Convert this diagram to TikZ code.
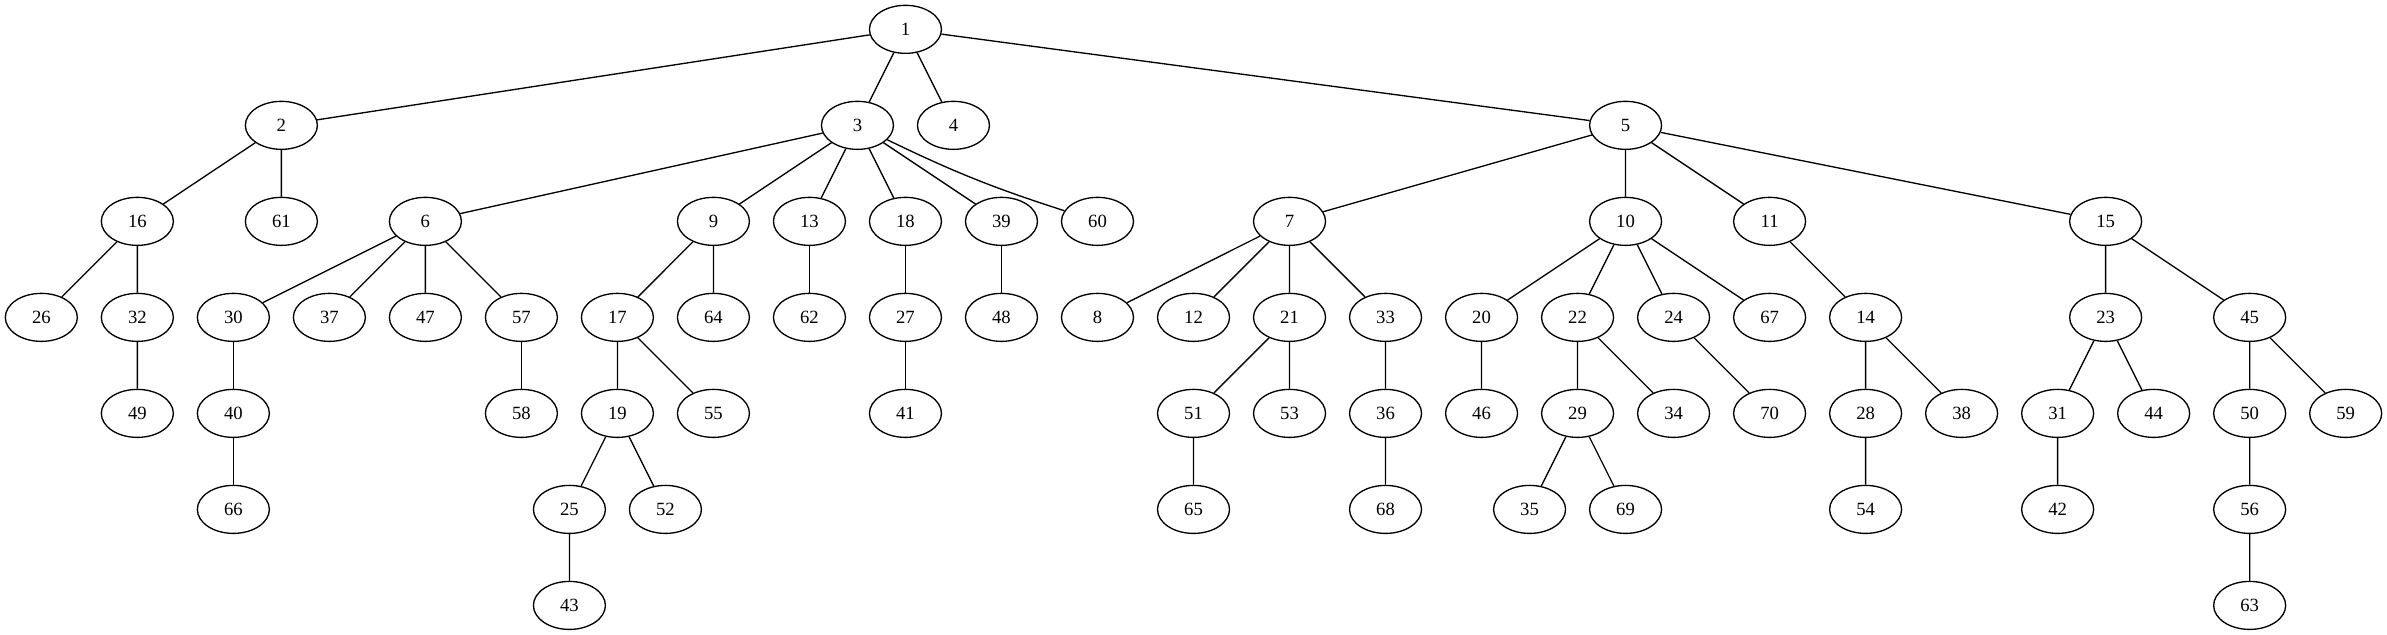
\documentclass[tikz,border=0pt]{standalone}
\usepackage{fontspec}
\setmainfont{Liberation Serif}
\usetikzlibrary{shapes.geometric}
\begin{document}
\begin{tikzpicture}[x=72pt, y=72pt, line width=1pt,
    vtx/.style={draw, ellipse, minimum width=54pt, minimum height=36pt,
                inner sep=0pt, font=\fontsize{14}{16}\selectfont}]
  \useasboundingbox (-31pt, 22pt) rectangle (1759pt, -454pt);
  % rank 0 and 1
  \node[vtx] (v1) at (9, 0) {1};
  \node[vtx] (v2) at (2.5, -1) {2};
  \node[vtx] (v3) at (8.5, -1) {3};
  \node[vtx] (v4) at (9.5, -1) {4};
  \node[vtx] (v5) at (16.5, -1) {5};
  % rank 2
  \node[vtx] (v16) at (1, -2) {16};
  \node[vtx] (v61) at (2.5, -2) {61};
  \node[vtx] (v6) at (4, -2) {6};
  \node[vtx] (v9) at (7, -2) {9};
  \node[vtx] (v13) at (8, -2) {13};
  \node[vtx] (v18) at (9, -2) {18};
  \node[vtx] (v39) at (10, -2) {39};
  \node[vtx] (v60) at (11, -2) {60};
  \node[vtx] (v7) at (13, -2) {7};
  \node[vtx] (v10) at (16.5, -2) {10};
  \node[vtx] (v11) at (18, -2) {11};
  \node[vtx] (v15) at (21.5, -2) {15};
  % rank 3
  \node[vtx] (v26) at (0, -3) {26};
  \node[vtx] (v32) at (1, -3) {32};
  \node[vtx] (v30) at (2, -3) {30};
  \node[vtx] (v37) at (3, -3) {37};
  \node[vtx] (v47) at (4, -3) {47};
  \node[vtx] (v57) at (5, -3) {57};
  \node[vtx] (v17) at (6, -3) {17};
  \node[vtx] (v64) at (7, -3) {64};
  \node[vtx] (v62) at (8, -3) {62};
  \node[vtx] (v27) at (9, -3) {27};
  \node[vtx] (v48) at (10, -3) {48};
  \node[vtx] (v8) at (11, -3) {8};
  \node[vtx] (v12) at (12, -3) {12};
  \node[vtx] (v21) at (13, -3) {21};
  \node[vtx] (v33) at (14, -3) {33};
  \node[vtx] (v20) at (15, -3) {20};
  \node[vtx] (v22) at (16, -3) {22};
  \node[vtx] (v24) at (17, -3) {24};
  \node[vtx] (v67) at (18, -3) {67};
  \node[vtx] (v14) at (19, -3) {14};
  \node[vtx] (v23) at (21.5, -3) {23};
  \node[vtx] (v45) at (23, -3) {45};
  % rank 4
  \node[vtx] (v49) at (1, -4) {49};
  \node[vtx] (v40) at (2, -4) {40};
  \node[vtx] (v58) at (5, -4) {58};
  \node[vtx] (v19) at (6, -4) {19};
  \node[vtx] (v55) at (7, -4) {55};
  \node[vtx] (v41) at (9, -4) {41};
  \node[vtx] (v51) at (12, -4) {51};
  \node[vtx] (v53) at (13, -4) {53};
  \node[vtx] (v36) at (14, -4) {36};
  \node[vtx] (v46) at (15, -4) {46};
  \node[vtx] (v29) at (16, -4) {29};
  \node[vtx] (v34) at (17, -4) {34};
  \node[vtx] (v70) at (18, -4) {70};
  \node[vtx] (v28) at (19, -4) {28};
  \node[vtx] (v38) at (20, -4) {38};
  \node[vtx] (v31) at (21, -4) {31};
  \node[vtx] (v44) at (22, -4) {44};
  \node[vtx] (v50) at (23, -4) {50};
  \node[vtx] (v59) at (24, -4) {59};
  % rank 5 and 6
  \node[vtx] (v66) at (2, -5) {66};
  \node[vtx] (v25) at (5.5, -5) {25};
  \node[vtx] (v52) at (6.5, -5) {52};
  \node[vtx] (v65) at (12, -5) {65};
  \node[vtx] (v68) at (14, -5) {68};
  \node[vtx] (v35) at (15.5, -5) {35};
  \node[vtx] (v69) at (16.5, -5) {69};
  \node[vtx] (v54) at (19, -5) {54};
  \node[vtx] (v42) at (21, -5) {42};
  \node[vtx] (v56) at (23, -5) {56};
  \node[vtx] (v43) at (5.5, -6) {43};
  \node[vtx] (v63) at (23, -6) {63};
  % edges
  \draw (v1) -- (v2) (v1) -- (v3) (v1) -- (v4) (v1) -- (v5);
  \draw (v2) -- (v16) (v2) -- (v61) (v16) -- (v26) (v16) -- (v32) (v32) -- (v49);
  \draw (v3) -- (v6) (v3) -- (v9) (v3) -- (v13) (v3) -- (v18) (v3) -- (v39);
  \draw (v3) to[bend right=4] (v60);
  \draw (v6) -- (v30) (v6) -- (v37) (v6) -- (v47) (v6) -- (v57);
  \draw (v30) -- (v40) (v40) -- (v66) (v57) -- (v58);
  \draw (v9) -- (v17) (v9) -- (v64) (v17) -- (v19) (v17) -- (v55);
  \draw (v19) -- (v25) (v19) -- (v52) (v25) -- (v43);
  \draw (v13) -- (v62) (v18) -- (v27) (v27) -- (v41) (v39) -- (v48);
  \draw (v5) -- (v7) (v5) -- (v10) (v5) -- (v11) (v5) -- (v15);
  \draw (v7) -- (v8) (v7) -- (v12) (v7) -- (v21) (v7) -- (v33);
  \draw (v21) -- (v51) (v21) -- (v53) (v51) -- (v65) (v33) -- (v36) (v36) -- (v68);
  \draw (v10) -- (v20) (v10) -- (v22) (v10) -- (v24) (v10) -- (v67);
  \draw (v20) -- (v46) (v22) -- (v29) (v22) -- (v34) (v29) -- (v35) (v29) -- (v69);
  \draw (v24) -- (v70) (v11) -- (v14) (v14) -- (v28) (v14) -- (v38) (v28) -- (v54);
  \draw (v15) -- (v23) (v15) -- (v45) (v23) -- (v31) (v23) -- (v44) (v31) -- (v42);
  \draw (v45) -- (v50) (v45) -- (v59) (v50) -- (v56) (v56) -- (v63);
\end{tikzpicture}
\end{document}
